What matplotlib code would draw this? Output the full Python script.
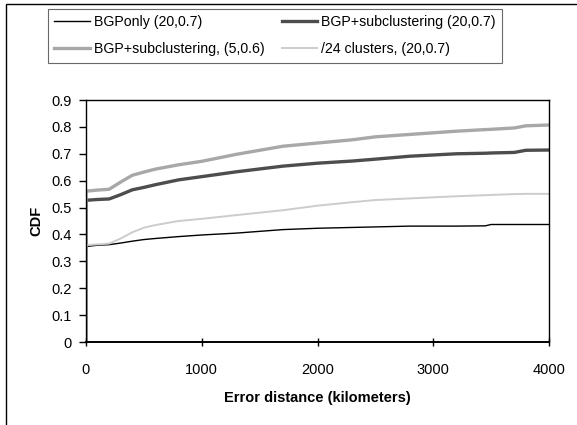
import matplotlib
matplotlib.use('Agg')
import matplotlib.pyplot as plt
from matplotlib.patches import Rectangle

plt.rcParams['font.family'] = ['Liberation Sans', 'DejaVu Sans']

# error distance (km) and CDF values
dist = [0, 0, 100, 200, 300, 400, 500, 600, 800, 1000, 1300, 1700, 2000,
        2300, 2500, 2800, 3200, 3450, 3500, 3700, 3800, 4000]

bgp_only = [0, 0.355, 0.36, 0.362, 0.368, 0.375, 0.381, 0.385, 0.392, 0.398,
            0.405, 0.418, 0.423, 0.426, 0.428, 0.431, 0.431, 0.432, 0.437,
            0.437, 0.437, 0.437]
bgp_sub_20 = [0, 0.527, 0.530, 0.532, 0.548, 0.566, 0.575, 0.585, 0.603, 0.615,
              0.633, 0.654, 0.665, 0.673, 0.680, 0.691, 0.700, 0.702, 0.703,
              0.705, 0.713, 0.714]
bgp_sub_5 = [0, 0.561, 0.565, 0.568, 0.595, 0.620, 0.632, 0.643, 0.659, 0.672,
             0.698, 0.728, 0.740, 0.752, 0.763, 0.772, 0.784, 0.790, 0.791,
             0.796, 0.804, 0.807]
clusters_24 = [0, 0.360, 0.363, 0.366, 0.385, 0.408, 0.425, 0.435, 0.450, 0.458,
               0.472, 0.490, 0.507, 0.520, 0.528, 0.534, 0.542, 0.546, 0.547,
               0.550, 0.551, 0.551]

fig = plt.figure(figsize=(5.77, 4.25), dpi=100)
ax = fig.add_axes([86 / 577, 1 - 342 / 425, 463 / 577, 242 / 425])

l1, = ax.plot(dist, bgp_only, color='black', lw=1.0, label='BGPonly (20,0.7)')
l2, = ax.plot(dist, bgp_sub_20, color='#4d4d4d', lw=2.4, label='BGP+subclustering (20,0.7)')
l3, = ax.plot(dist, bgp_sub_5, color='#a8a8a8', lw=2.4, label='BGP+subclustering, (5,0.6)')
l4, = ax.plot(dist, clusters_24, color='#cccccc', lw=1.4, label='/24 clusters, (20,0.7)')

ax.set_xlim(0, 4000)
ax.set_ylim(0, 0.9)
ax.set_xticks([0, 1000, 2000, 3000, 4000])
ax.set_yticks([0, 0.1, 0.2, 0.3, 0.4, 0.5, 0.6, 0.7, 0.8, 0.9])
ax.set_yticklabels(['0', '0.1', '0.2', '0.3', '0.4', '0.5', '0.6', '0.7', '0.8', '0.9'])
ax.tick_params(axis='x', direction='inout', length=6, width=1, labelsize=10.5, pad=12)
ax.tick_params(axis='y', direction='out', length=5, width=1, labelsize=10.5, pad=5)
for s in ax.spines.values():
    s.set_linewidth(1.0)
ax.spines['bottom'].set_linewidth(1.4)

ax.set_xlabel('Error distance (kilometers)', fontsize=10.5, fontweight='bold', labelpad=10)
ax.set_ylabel('CDF', fontsize=10.5, fontweight='bold', labelpad=6)

# legend filled row by row like the original
leg = fig.legend([l1, l3, l2, l4], [l.get_label() for l in [l1, l3, l2, l4]],
                 loc='upper left', bbox_to_anchor=(48 / 577, 1 - 9 / 425), ncol=2,
                 fontsize=10.2, frameon=True, fancybox=False, handlelength=2.5,
                 handletextpad=0.3, columnspacing=1.2, borderaxespad=0,
                 borderpad=0.45, labelspacing=0.9)
leg.get_frame().set_edgecolor('#444444')
leg.get_frame().set_linewidth(0.8)

# outer chart frame (cropped on the right and bottom)
fig.patches.append(Rectangle((6 / 577, -0.1), 1.2, 1.1 - 4 / 425, transform=fig.transFigure,
                             fill=False, edgecolor='black', lw=1.0))

fig.savefig('out.png', dpi=100)
